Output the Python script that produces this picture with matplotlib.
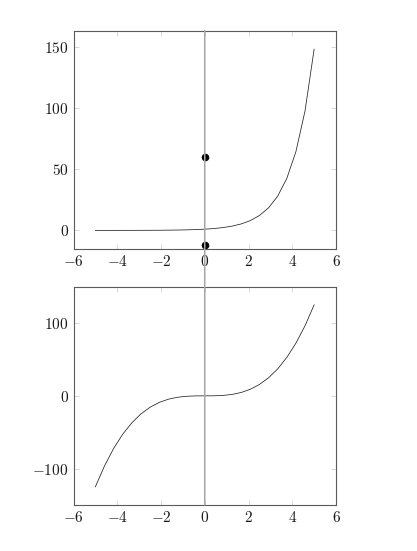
import matplotlib
matplotlib.use("Agg")
import matplotlib.pyplot as plt
from matplotlib.patches import ConnectionPatch
from matplotlib.ticker import FuncFormatter

plt.rcParams["mathtext.fontset"] = "cm"
plt.rcParams["font.family"] = "serif"

# sampled curve values (25 samples on [-5, 5])
x_vals = [-5.0, -4.5833, -4.1667, -3.75, -3.3333, -2.9167, -2.5, -2.0833,
          -1.6667, -1.25, -0.8333, -0.4167, 0.0, 0.4167, 0.8333, 1.25,
          1.6667, 2.0833, 2.5, 2.9167, 3.3333, 3.75, 4.1667, 4.5833, 5.0]
exp_vals = [0.0067, 0.0102, 0.0155, 0.0235, 0.0357, 0.0541, 0.0821, 0.1245,
            0.1889, 0.2865, 0.4346, 0.6592, 1.0, 1.517, 2.301, 3.490,
            5.294, 8.031, 12.18, 18.48, 28.03, 42.52, 64.50, 97.83, 148.41]
cube_vals = [-125.0, -96.28, -72.34, -52.73, -37.04, -24.81, -15.63, -9.04,
             -4.63, -1.95, -0.579, -0.0723, 0.0, 0.0723, 0.579, 1.95,
             4.63, 9.04, 15.63, 24.81, 37.04, 52.73, 72.34, 96.28, 125.0]

# marked points on the line x = 0
point_x = [0, 0]
point_y = [60, -12]

x_ticks = [-6, -4, -2, 0, 2, 4, 6]
top_yticks = [0, 50, 100, 150]
bottom_yticks = [-100, 0, 100]

W, H = 417, 551
fig = plt.figure(figsize=(W / 100, H / 100), dpi=100)

def px_axes(left, top, right, bottom):
    return fig.add_axes([left / W, 1 - bottom / H, (right - left) / W, (bottom - top) / H])

ax1 = px_axes(73.5, 30.7, 336, 248.7)
ax2 = px_axes(73.5, 286.7, 336, 505)

fmt = FuncFormatter(lambda v, p: r"$%d$" % round(v))

for ax in (ax1, ax2):
    ax.set_xlim(-6, 6)
    ax.set_xticks(x_ticks)
    ax.xaxis.set_major_formatter(fmt)
    ax.yaxis.set_major_formatter(fmt)
    ax.tick_params(direction="in", length=3.5, width=0.5, color="#c8c8c8",
                   top=True, right=True, labelsize=11, pad=3.5, labelcolor="#1a1a1a")
    for s in ax.spines.values():
        s.set_linewidth(0.8)
        s.set_color("#5a5a5a")

ax1.plot(x_vals, exp_vals, color="#222222", lw=0.55)
ax1.scatter(point_x, point_y, s=20, color="black", zorder=5)
ax1.set_ylim(-15, 163.6)
ax1.set_yticks(top_yticks)

ax2.plot(x_vals, cube_vals, color="#222222", lw=0.55)
ax2.set_ylim(-150, 150)
ax2.set_yticks(bottom_yticks)

# vertical line at x = 0 running through both panels
con = ConnectionPatch(xyA=(0, 163.6), coordsA=ax1.transData,
                      xyB=(0, -150), coordsB=ax2.transData,
                      color="#a6a6a6", lw=1.1, zorder=10)
fig.add_artist(con)

fig.savefig("out.png", dpi=100)
